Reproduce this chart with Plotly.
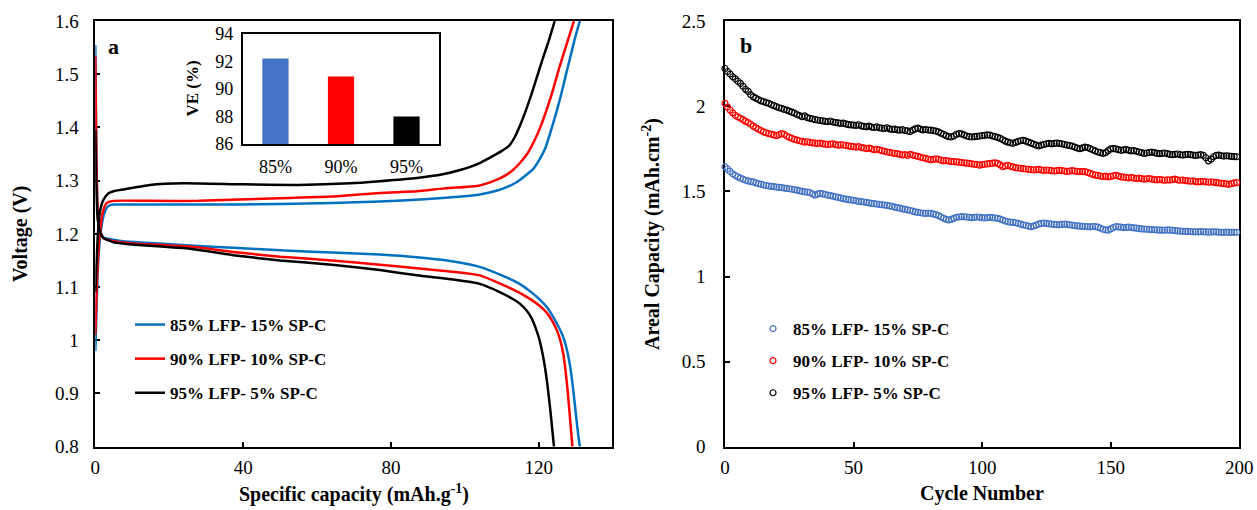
import plotly.graph_objects as go

# ---------------- data ----------------
# Panel a: charge / discharge curves (specific capacity mAh/g, voltage V)
blue_chg_x = [0, 0.3, 0.6, 1.0, 1.5, 2.2, 3.0, 4.0, 5.0, 10, 20, 38, 50, 64, 77, 89, 99, 104, 108, 111, 114, 116.5, 118.5, 120.2, 121.8, 123.2, 124.6, 125.9, 127.2, 128.5, 129.8, 131.1]
blue_chg_v = [0.98, 1.05, 1.12, 1.17, 1.205, 1.233, 1.248, 1.254, 1.255, 1.255, 1.255, 1.255, 1.256, 1.258, 1.261, 1.265, 1.270, 1.274, 1.280, 1.287, 1.297, 1.310, 1.322, 1.340, 1.362, 1.392, 1.425, 1.458, 1.495, 1.532, 1.568, 1.6]
red_chg_x = [0, 0.3, 0.7, 1.2, 2.0, 3.1, 4.9, 15, 28, 50, 64, 77, 87, 94, 104, 108, 111, 113, 115, 117, 118.8, 120.5, 122.1, 123.9, 125.6, 127.6, 129.5]
red_chg_v = [1.01, 1.08, 1.15, 1.20, 1.24, 1.258, 1.262, 1.262, 1.262, 1.267, 1.270, 1.277, 1.280, 1.285, 1.291, 1.300, 1.310, 1.320, 1.334, 1.352, 1.375, 1.402, 1.433, 1.472, 1.514, 1.558, 1.6]
black_chg_x = [0, 0.3, 0.7, 1.2, 2.2, 3.5, 4.9, 8, 14.8, 24, 40, 55, 69, 77, 87, 94, 98.7, 104, 107, 110, 112, 113.5, 115, 116.5, 118, 119.5, 121, 122.7, 124.3]
black_chg_v = [1.09, 1.14, 1.20, 1.24, 1.264, 1.276, 1.280, 1.284, 1.292, 1.295, 1.293, 1.292, 1.295, 1.299, 1.305, 1.312, 1.32, 1.333, 1.344, 1.356, 1.366, 1.382, 1.405, 1.432, 1.462, 1.495, 1.528, 1.563, 1.6]

blue_dis_x = [0, 0.15, 0.3, 0.5, 0.8, 1.3, 2.2, 4.9, 7.5, 15, 25.6, 37.3, 50, 64, 77, 87, 96, 104, 110, 114.8, 118, 120.2, 122.2, 123.8, 125.3, 126.5, 127.5, 128.3, 129.0, 129.6, 130.2, 130.7, 131.1]
blue_dis_v = [1.555, 1.45, 1.35, 1.27, 1.225, 1.205, 1.193, 1.189, 1.186, 1.183, 1.178, 1.174, 1.169, 1.165, 1.161, 1.156, 1.149, 1.138, 1.122, 1.106, 1.090, 1.077, 1.062, 1.045, 1.026, 1.008, 0.985, 0.958, 0.925, 0.889, 0.85, 0.82, 0.80]
red_dis_x = [0, 0.15, 0.3, 0.5, 0.8, 1.3, 2.2, 5, 10.2, 25.6, 37.3, 50, 64, 77, 89, 98, 104, 110, 114.8, 118, 120.2, 122, 123.5, 124.8, 125.8, 126.6, 127.2, 127.8, 128.3, 128.7, 129.1]
red_dis_v = [1.534, 1.43, 1.34, 1.27, 1.225, 1.205, 1.192, 1.186, 1.182, 1.176, 1.166, 1.157, 1.150, 1.142, 1.134, 1.128, 1.122, 1.105, 1.089, 1.076, 1.065, 1.053, 1.038, 1.020, 1.0, 0.975, 0.945, 0.905, 0.865, 0.832, 0.80]
black_dis_x = [0, 0.2, 0.4, 0.7, 1.2, 2.2, 5, 10, 25.6, 37.3, 50, 64, 77, 87, 96.8, 104, 109, 113.1, 115, 116.7, 118, 119.2, 120.2, 121, 121.7, 122.3, 122.9, 123.5, 124.1]
black_dis_v = [1.395, 1.32, 1.26, 1.225, 1.205, 1.192, 1.184, 1.180, 1.172, 1.160, 1.150, 1.142, 1.132, 1.122, 1.114, 1.106, 1.092, 1.077, 1.068, 1.056, 1.042, 1.022, 1.0, 0.975, 0.948, 0.918, 0.882, 0.842, 0.80]

series_names = ["85% LFP- 15% SP-C", "90% LFP- 10% SP-C", "95% LFP- 5% SP-C"]

# Inset: voltage efficiency
ve_labels = ["85%", "90%", "95%"]
ve_values = [92.2, 90.9, 88.0]

# Panel b: areal capacity vs cycle number
cycles = list(range(0, 200))
cap_85 = [
    1.645, 1.632, 1.618, 1.604, 1.594, 1.586, 1.578, 1.572, 1.566, 1.562,
    1.558, 1.556, 1.550, 1.546, 1.542, 1.538, 1.535, 1.532, 1.530, 1.528,
    1.526, 1.524, 1.522, 1.520, 1.518, 1.516, 1.513, 1.510, 1.508, 1.504,
    1.500, 1.498, 1.496, 1.494, 1.486, 1.478, 1.484, 1.489, 1.486, 1.482,
    1.478, 1.475, 1.472, 1.468, 1.465, 1.462, 1.458, 1.455, 1.452, 1.450,
    1.448, 1.445, 1.442, 1.440, 1.438, 1.436, 1.433, 1.430, 1.428, 1.426,
    1.424, 1.422, 1.420, 1.418, 1.415, 1.412, 1.408, 1.405, 1.402, 1.398,
    1.395, 1.392, 1.388, 1.384, 1.380, 1.377, 1.375, 1.372, 1.371, 1.372,
    1.371, 1.368, 1.364, 1.358, 1.350, 1.342, 1.336, 1.332, 1.336, 1.342,
    1.348, 1.350, 1.352, 1.351, 1.350, 1.348, 1.346, 1.348, 1.350, 1.348,
    1.346, 1.344, 1.346, 1.348, 1.346, 1.344, 1.342, 1.338, 1.332, 1.326,
    1.322, 1.320, 1.318, 1.316, 1.312, 1.308, 1.304, 1.300, 1.296, 1.293,
    1.296, 1.302, 1.308, 1.312, 1.314, 1.312, 1.310, 1.308, 1.306, 1.305,
    1.304, 1.306, 1.308, 1.306, 1.304, 1.302, 1.300, 1.298, 1.296, 1.295,
    1.294, 1.293, 1.292, 1.294, 1.293, 1.290, 1.284, 1.278, 1.274, 1.273,
    1.280, 1.288, 1.293, 1.292, 1.290, 1.288, 1.289, 1.290, 1.288, 1.286,
    1.284, 1.282, 1.280, 1.279, 1.278, 1.277, 1.276, 1.275, 1.274, 1.273,
    1.273, 1.272, 1.274, 1.273, 1.272, 1.270, 1.268, 1.267, 1.266, 1.266,
    1.265, 1.264, 1.263, 1.263, 1.262, 1.264, 1.263, 1.262, 1.261, 1.262,
    1.263, 1.262, 1.261, 1.260, 1.260, 1.261, 1.260, 1.259, 1.260, 1.260,
]
cap_90 = [
    2.018, 1.996, 1.978, 1.962, 1.948, 1.938, 1.930, 1.922, 1.912, 1.905,
    1.895, 1.884, 1.874, 1.866, 1.858, 1.850, 1.845, 1.840, 1.836, 1.832,
    1.828, 1.834, 1.840, 1.836, 1.826, 1.818, 1.812, 1.806, 1.802, 1.798,
    1.794, 1.790, 1.792, 1.788, 1.786, 1.784, 1.782, 1.784, 1.780, 1.778,
    1.776, 1.778, 1.780, 1.775, 1.772, 1.774, 1.773, 1.770, 1.768, 1.765,
    1.763, 1.760, 1.764, 1.758, 1.756, 1.752, 1.755, 1.750, 1.746, 1.748,
    1.744, 1.740, 1.736, 1.732, 1.730, 1.726, 1.724, 1.722, 1.718, 1.714,
    1.716, 1.712, 1.718, 1.714, 1.710, 1.706, 1.702, 1.698, 1.694, 1.690,
    1.686, 1.688, 1.692, 1.688, 1.684, 1.680, 1.682, 1.678, 1.676, 1.675,
    1.674, 1.672, 1.670, 1.668, 1.666, 1.665, 1.662, 1.660, 1.658, 1.655,
    1.658, 1.660, 1.662, 1.664, 1.666, 1.668, 1.665, 1.656, 1.646, 1.650,
    1.654, 1.648, 1.644, 1.640, 1.638, 1.636, 1.634, 1.632, 1.630, 1.628,
    1.626, 1.628, 1.630, 1.626, 1.624, 1.626, 1.624, 1.622, 1.620, 1.622,
    1.624, 1.622, 1.620, 1.618, 1.620, 1.622, 1.620, 1.618, 1.617, 1.616,
    1.616, 1.612, 1.606, 1.600, 1.596, 1.594, 1.590, 1.588, 1.590, 1.586,
    1.588, 1.592, 1.594, 1.590, 1.586, 1.584, 1.582, 1.580, 1.582, 1.578,
    1.576, 1.578, 1.575, 1.572, 1.574, 1.576, 1.572, 1.570, 1.568, 1.570,
    1.568, 1.566, 1.568, 1.567, 1.570, 1.572, 1.568, 1.566, 1.567, 1.564,
    1.562, 1.560, 1.562, 1.558, 1.556, 1.558, 1.560, 1.556, 1.554, 1.556,
    1.554, 1.552, 1.550, 1.548, 1.546, 1.544, 1.542, 1.546, 1.550, 1.552,
]
cap_95 = [
    2.223, 2.205, 2.190, 2.174, 2.162, 2.148, 2.135, 2.118, 2.100, 2.088,
    2.068, 2.056, 2.048, 2.040, 2.032, 2.028, 2.022, 2.018, 2.010, 2.004,
    1.998, 1.992, 1.988, 1.982, 1.978, 1.972, 1.966, 1.960, 1.952, 1.946,
    1.940, 1.944, 1.934, 1.930, 1.926, 1.922, 1.920, 1.917, 1.915, 1.912,
    1.910, 1.914, 1.908, 1.905, 1.903, 1.900, 1.902, 1.897, 1.893, 1.891,
    1.890, 1.888, 1.892, 1.885, 1.882, 1.880, 1.884, 1.878, 1.876, 1.879,
    1.874, 1.872, 1.870, 1.874, 1.868, 1.865, 1.866, 1.862, 1.860, 1.863,
    1.858, 1.856, 1.852, 1.860, 1.868, 1.872, 1.866, 1.862, 1.864, 1.861,
    1.860, 1.858, 1.855, 1.850, 1.842, 1.835, 1.828, 1.822, 1.820, 1.826,
    1.836, 1.840, 1.838, 1.832, 1.826, 1.822, 1.820, 1.822, 1.824, 1.826,
    1.828, 1.830, 1.832, 1.831, 1.826, 1.822, 1.818, 1.812, 1.804, 1.796,
    1.790, 1.786, 1.783, 1.788, 1.794, 1.798, 1.800, 1.796, 1.790, 1.784,
    1.778, 1.772, 1.768, 1.772, 1.776, 1.780, 1.782, 1.780, 1.782, 1.784,
    1.782, 1.780, 1.776, 1.772, 1.770, 1.766, 1.760, 1.755, 1.752, 1.756,
    1.760, 1.758, 1.752, 1.745, 1.738, 1.732, 1.728, 1.724, 1.728, 1.740,
    1.750, 1.752, 1.750, 1.746, 1.742, 1.744, 1.746, 1.742, 1.738, 1.740,
    1.736, 1.732, 1.728, 1.724, 1.726, 1.729, 1.731, 1.728, 1.724, 1.722,
    1.724, 1.726, 1.722, 1.718, 1.716, 1.718, 1.720, 1.716, 1.714, 1.716,
    1.718, 1.716, 1.714, 1.712, 1.714, 1.716, 1.712, 1.698, 1.680, 1.690,
    1.704, 1.712, 1.714, 1.710, 1.708, 1.710, 1.708, 1.706, 1.705, 1.704,
]

# ---------------- styling ----------------
W, H = 1257, 510
FONT = "Times New Roman, Liberation Serif, serif"
line_colors = ["#0070C0", "#FF0000", "#000000"]
marker_colors = ["#4472C4", "#FF0000", "#000000"]
bar_colors = ["#4472C4", "#FF0000", "#000000"]

fig = go.Figure()

chg = [(blue_chg_x, blue_chg_v), (red_chg_x, red_chg_v), (black_chg_x, black_chg_v)]
dis = [(blue_dis_x, blue_dis_v), (red_dis_x, red_dis_v), (black_dis_x, black_dis_v)]
for i in range(3):
    fig.add_trace(go.Scatter(
        x=chg[i][0], y=chg[i][1], mode="lines", name=series_names[i],
        line=dict(color=line_colors[i], width=2.5, shape="spline", smoothing=0.5),
        xaxis="x", yaxis="y", legend="legend", legendgroup="a%d" % i,
        cliponaxis=False,
    ))
    fig.add_trace(go.Scatter(
        x=dis[i][0], y=dis[i][1], mode="lines", name=series_names[i],
        line=dict(color=line_colors[i], width=2.5, shape="spline", smoothing=0.5),
        xaxis="x", yaxis="y", showlegend=False, legendgroup="a%d" % i,
        cliponaxis=False,
    ))

fig.add_trace(go.Bar(
    x=ve_labels, y=ve_values, marker=dict(color=bar_colors, line=dict(width=0)),
    xaxis="x3", yaxis="y3", showlegend=False,
))

caps = [cap_85, cap_90, cap_95]
for i in range(3):
    fig.add_trace(go.Scatter(
        x=cycles, y=caps[i], mode="markers", name=series_names[i],
        marker=dict(symbol="circle-open", size=6, color=marker_colors[i], line=dict(width=1.2, color=marker_colors[i])),
        xaxis="x2", yaxis="y2", legend="legend2", legendgroup="b%d" % i,
        cliponaxis=False,
    ))

def px_x(p):
    return p / W

def px_y(p):
    return 1 - p / H

tickfont = dict(family=FONT, size=19, color="black")
axis_common = dict(showline=True, linecolor="black", linewidth=1.5, mirror=True,
                   ticks="inside", ticklen=5, tickwidth=1.5, tickcolor="black",
                   showgrid=False, zeroline=False, tickfont=tickfont, automargin=False)

fig.update_layout(
    template="none",
    width=W, height=H, margin=dict(l=0, r=0, t=0, b=0, pad=0), autosize=False,
    paper_bgcolor="white", plot_bgcolor="white",
    font=dict(family=FONT, color="black"),
    xaxis=dict(domain=[px_x(95.3), px_x(612)], range=[0, 139.8], tickvals=[0, 40, 80, 120],
               anchor="y", layer="below traces", ticklabelstandoff=3, **axis_common),
    yaxis=dict(domain=[px_y(446.7), px_y(21)], range=[0.8, 1.6], dtick=0.1, tickformat="~g",
               anchor="x", layer="below traces", ticklabelstandoff=11, **axis_common),
    xaxis2=dict(domain=[px_x(725), px_x(1239.3)], range=[0, 200], dtick=50,
                anchor="y2", layer="below traces", ticklabelstandoff=3, **axis_common),
    yaxis2=dict(domain=[px_y(446.7), px_y(21.3)], range=[0, 2.5], dtick=0.5, tickformat="~g",
                anchor="x2", layer="below traces", ticklabelstandoff=14, **axis_common),
    xaxis3=dict(domain=[px_x(242.7), px_x(439.3)], anchor="y3", type="category", showline=True,
                linecolor="black", linewidth=1.5, mirror=True, ticks="", showgrid=False,
                zeroline=False, automargin=False,
                tickfont=dict(family=FONT, size=18, color="black"), ticklabelstandoff=6),
    yaxis3=dict(domain=[px_y(144), px_y(33.7)], anchor="x3", range=[86, 94], dtick=2,
                showline=True, linecolor="black", linewidth=1.5, mirror=True, ticks="", automargin=False,
                showgrid=False, zeroline=False, tickfont=dict(family=FONT, size=18, color="black"),
                ticklabelstandoff=4),
    bargap=0.6,
    legend=dict(x=px_x(130), y=px_y(307), xanchor="left", yanchor="top",
                font=dict(family=FONT, size=17, color="black", weight="bold"),
                bgcolor="rgba(0,0,0,0)", tracegroupgap=9, traceorder="grouped", itemwidth=30),
    legend2=dict(x=px_x(753), y=px_y(311), xanchor="left", yanchor="top",
                 font=dict(family=FONT, size=17, color="black", weight="bold"),
                 bgcolor="rgba(0,0,0,0)", tracegroupgap=7, traceorder="grouped", itemwidth=30),
    showlegend=True,
)

title_font = dict(family=FONT, size=20, color="black", weight="bold")
def note(text, x, y, font, angle=0):
    fig.add_annotation(text=text, x=px_x(x), y=px_y(y), xref="paper", yref="paper",
                       xanchor="center", yanchor="middle", showarrow=False,
                       textangle=angle, font=font)

note("Specific capacity (mAh.g<sup>-1</sup>)", 353.5, 493, title_font)
note("Voltage (V)", 21, 234, title_font, -90)
note("Cycle Number", 982, 493, title_font)
note("Areal Capacity (mAh.cm<sup>-2</sup>)", 652, 234, title_font, -90)
note("VE (%)", 192, 88.5, dict(family=FONT, size=17, color="black", weight="bold"), -90)
note("a", 113, 46, dict(family=FONT, size=22, color="black", weight="bold"))
note("b", 746, 45, dict(family=FONT, size=22, color="black", weight="bold"))

fig.write_html("out.html")
